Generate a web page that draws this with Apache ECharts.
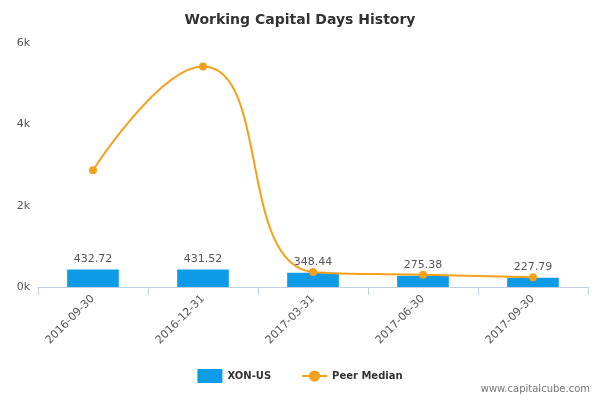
<!DOCTYPE html>
<html>
<head>
<meta charset="utf-8">
<script src="https://cdn.jsdelivr.net/npm/echarts@6/dist/echarts.min.js"></script>
<style>html,body{margin:0;padding:0;background:#fff}#chart{width:600px;height:400px}</style>
</head>
<body>
<div id="chart"></div>
<script>
var categories = ['2016-09-30', '2016-12-31', '2017-03-31', '2017-06-30', '2017-09-30'];
var xonValues = [432.72, 431.52, 348.44, 275.38, 227.79];
var peerMedian = [2870, 5420, 370, 300, 240];
var yTicks = [0, 2000, 4000, 6000];

var chart = echarts.init(document.getElementById('chart'));
chart.setOption({
    animation: false,
    title: {
        text: 'Working Capital Days History',
        left: 'center',
        top: 8,
        textStyle: { fontFamily: 'DejaVu Sans', fontSize: 14, fontWeight: 'bold', color: '#333' }
    },
    legend: {
        bottom: 12,
        left: 'center',
        itemGap: 30,
        textStyle: { fontFamily: 'DejaVu Sans', fontSize: 10, fontWeight: 'bold', color: '#333' },
        data: [
            { name: 'XON-US', icon: 'rect' },
            { name: 'Peer Median' }
        ]
    },
    grid: { left: 38, right: 12, top: 43, bottom: 113 },
    xAxis: {
        type: 'category',
        data: categories,
        axisLine: { lineStyle: { color: '#c0d0e0' } },
        axisTick: { show: true, alignWithLabel: false, lineStyle: { color: '#c0d0e0' }, length: 8 },
        axisLabel: { rotate: 45, color: '#555', fontFamily: 'DejaVu Sans', fontSize: 11, margin: 10 }
    },
    yAxis: {
        type: 'value',
        min: 0,
        max: yTicks[yTicks.length - 1],
        interval: 2000,
        splitLine: { show: false },
        axisLine: { show: false },
        axisTick: { show: false },
        axisLabel: {
            color: '#555', fontFamily: 'DejaVu Sans', fontSize: 11,
            formatter: function (v) { return (v / 1000) + 'k'; }
        }
    },
    series: [
        {
            name: 'XON-US',
            type: 'bar',
            data: xonValues,
            barWidth: '47%',
            itemStyle: { color: '#0d9be8' },
            label: {
                show: true, position: 'top', color: '#555',
                fontFamily: 'DejaVu Sans', fontSize: 11,
                formatter: function (p) { return p.value.toFixed(2); }
            }
        },
        {
            name: 'Peer Median',
            type: 'line',
            data: peerMedian,
            smooth: 0.5,
            symbol: 'circle',
            symbolSize: 8,
            itemStyle: { color: '#f5a01a' },
            lineStyle: { color: '#f5a01a', width: 2 }
        }
    ],
    graphic: [{
        type: 'text', right: 10, bottom: 6,
        style: { text: 'www.capitalcube.com', fill: '#777', font: '10px DejaVu Sans' }
    }]
});
</script>
</body>
</html>
